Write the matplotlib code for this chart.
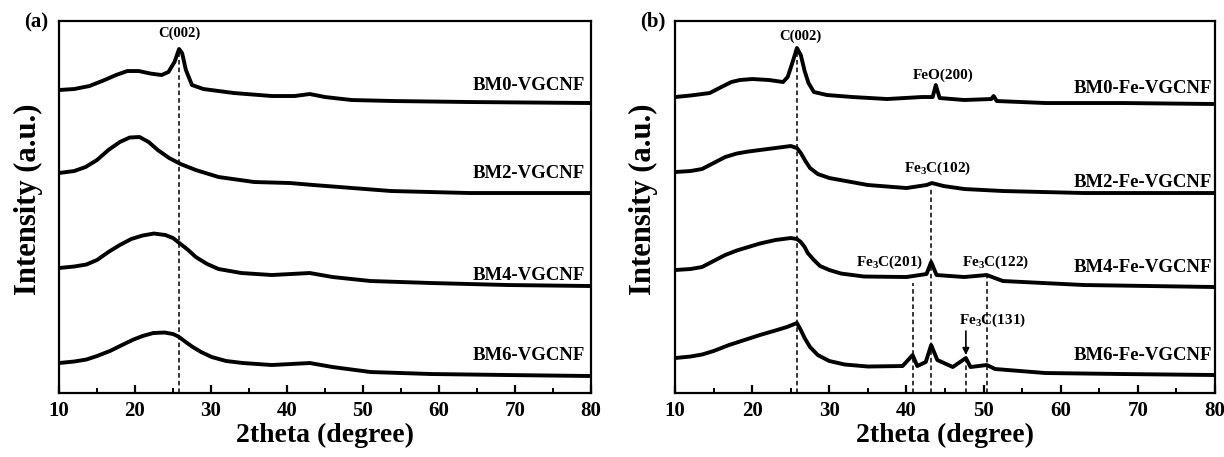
import matplotlib
matplotlib.use('Agg')
import matplotlib.pyplot as plt
from matplotlib.ticker import MultipleLocator


rc = {
    'font.family': 'Liberation Serif',
    'font.weight': 'bold',
    'mathtext.fontset': 'custom',
    'mathtext.default': 'regular',
    'mathtext.rm': 'Liberation Serif:bold',
    'axes.linewidth': 1.6,
    'xtick.direction': 'in',
    'xtick.major.size': 6,
    'xtick.major.width': 1.6,
    'xtick.minor.size': 3.5,
    'xtick.minor.width': 1.4,
    'xtick.labelsize': 15,
    'xtick.major.pad': 6,
}
plt.rcParams.update(rc)

# stacked patterns, intensity in arbitrary (offset) units
a_bm0_x = [10, 12, 14, 16, 17.5, 19, 20.5, 22, 23.5, 24.4, 25.2, 25.8, 26.2, 26.7, 27.5, 29, 33, 38, 41, 43, 45, 48.5, 54, 64, 80]
a_bm0_y = [303, 304, 307, 313, 318, 322, 322, 319.5, 318, 321, 331, 344, 340, 323, 308, 304, 300, 297, 297, 299, 296, 293, 292, 291, 290]

a_bm2_x = [10, 12, 13.5, 15, 16.5, 18, 19.3, 20.6, 21.8, 23, 24.5, 26, 28, 31, 35.7, 40.4, 43.5, 48.6, 53.7, 64, 80]
a_bm2_y = [220, 222, 226, 233, 243, 251, 255.5, 256, 251, 243, 235, 229, 223, 216, 211, 210, 208, 205, 202, 200, 200]

a_bm4_x = [10, 12, 13.6, 15, 16.5, 18, 19.5, 21, 22.5, 24, 25, 26, 27, 28, 29.5, 31, 34, 38, 43, 46, 51, 59, 69, 80]
a_bm4_y = [125, 126.5, 128.5, 133, 141, 148, 154, 157.5, 159.5, 158, 155, 149, 143, 136, 129, 124, 120, 118, 120, 116, 112, 110, 108, 107]

a_bm6_x = [10, 12, 13.6, 15, 16.7, 18.3, 19.8, 21, 22.4, 23.9, 25, 25.7, 26.5, 27.5, 28.7, 30.1, 32, 34.2, 38, 43, 46, 51, 59, 69, 80]
a_bm6_y = [30, 31.5, 33.5, 37, 42, 48, 53.5, 57, 60, 60.5, 59, 56.5, 52, 46.5, 41, 36, 32, 30, 28, 30, 26, 21, 19, 18, 17]

b_bm0_x = [10, 12, 14.5, 16, 17.3, 18.4, 20, 22.2, 24, 24.6, 25.2, 25.8, 26.3, 26.8, 27.3, 28, 29.7, 33, 37.5, 42, 43.4, 43.8, 44.3, 47.5, 51, 51.3, 51.7, 58, 68, 80]
b_bm0_y = [296, 297.5, 300, 306, 311, 313, 314, 313, 311, 316, 330, 345, 338, 322, 310, 301, 298, 296, 294, 296, 296, 308, 295, 293, 294, 297, 292, 290, 290, 289]

b_bm2_x = [10, 12, 13.5, 15, 16.5, 18, 19.5, 21, 23, 25, 25.8, 26.3, 26.9, 27.5, 28.5, 30, 35, 40, 42.6, 43.3, 44.8, 47.5, 52.5, 63, 80]
b_bm2_y = [221, 222, 224, 230, 236, 239.5, 241.5, 243, 245, 247, 245, 240, 232, 225, 219, 215, 208, 205, 208, 210, 207, 204, 202, 200, 200]

b_bm4_x = [10, 12, 13.5, 15, 16.5, 18, 19.5, 21, 23, 25, 25.8, 26.3, 26.8, 27.2, 28, 28.8, 30, 31.5, 34.5, 40, 42.6, 43.2, 43.9, 47.5, 50.4, 52.5, 63, 80]
b_bm4_y = [123, 124, 126, 132, 138, 142.5, 146, 149.5, 153, 155, 154, 151, 146, 140, 133, 127, 123, 119.5, 116.5, 116, 119, 131, 118, 116, 118, 112, 108, 106]

b_bm6_x = [10, 12, 13.5, 15, 17, 19, 21, 23, 24.5, 25.8, 26.3, 26.8, 27.5, 28.5, 30, 32, 35, 39.5, 40.8, 41.4, 42.5, 43.2, 44, 46, 47.7, 48.3, 50.4, 51.5, 58, 68, 80]
b_bm6_y = [35, 36.5, 38.5, 42, 48, 53, 58, 62.5, 66, 70, 63, 55, 46, 38, 32, 28.5, 26.5, 27, 38, 27, 31, 48, 33, 26, 35, 26, 28, 24, 20, 19, 18]

names_a = ['BM0-VGCNF', 'BM2-VGCNF', 'BM4-VGCNF', 'BM6-VGCNF']
names_b = ['BM0-Fe-VGCNF', 'BM2-Fe-VGCNF', 'BM4-Fe-VGCNF', 'BM6-Fe-VGCNF']
name_y_a = [308, 220, 118, 38]
name_y_b = [305, 211, 126, 38]

# peak reference lines: (2theta, top of the line)
ref_a = [(25.8, 343)]
ref_b = [(25.8, 345), (43.2, 205), (40.8, 110), (47.7, 35), (50.4, 116)]

fig = plt.figure(figsize=(12.24, 4.57), dpi=100)
ax_a = fig.add_axes([0.0482, 0.140, 0.4346, 0.814])
ax_b = fig.add_axes([0.5515, 0.140, 0.4412, 0.814])

curves_a = [(a_bm0_x, a_bm0_y), (a_bm2_x, a_bm2_y), (a_bm4_x, a_bm4_y), (a_bm6_x, a_bm6_y)]
curves_b = [(b_bm0_x, b_bm0_y), (b_bm2_x, b_bm2_y), (b_bm4_x, b_bm4_y), (b_bm6_x, b_bm6_y)]

for ax, curves, names, name_y, refs, name_x in [
        (ax_a, curves_a, names_a, name_y_a, ref_a, 79.2),
        (ax_b, curves_b, names_b, name_y_b, ref_b, 79.6)]:
    for (x, y) in curves:
        ax.plot(x, y, color='black', lw=2.8, solid_joinstyle='round', solid_capstyle='round')
    for (x0, top) in refs:
        ax.plot([x0, x0], [0, top], color='black', lw=1.1, ls=(0, (3, 2)))
    for n, yy in zip(names, name_y):
        ax.text(name_x, yy, n, ha='right', va='center', fontsize=13.5, fontweight='bold')
    ax.set_xlim(10, 80)
    ax.set_ylim(0, 372)
    ax.xaxis.set_major_locator(MultipleLocator(10))
    ax.xaxis.set_minor_locator(MultipleLocator(5))
    ax.set_yticks([])
    ax.set_xlabel('2theta (degree)', fontsize=20, fontweight='bold', labelpad=1)
    ax.set_ylabel('Intensity (a.u.)', fontsize=22, fontweight='bold', ha='center', va='center')
    ax.yaxis.set_label_coords(-31 / 532, 0.52)
    for lbl in ax.get_xticklabels():
        lbl.set_fontweight('bold')

fig.text(0.0294, 0.950, '(a)', ha='center', va='center', fontsize=15, fontweight='bold')
fig.text(0.533, 0.953, '(b)', ha='center', va='center', fontsize=15, fontweight='bold')

ax_a.text(25.8, 360, 'C(002)', ha='center', va='center', fontsize=10.5)
ax_b.text(26.3, 357, 'C(002)', ha='center', va='center', fontsize=10.5)
ax_b.text(44.8, 318, 'FeO(200)', ha='center', va='center', fontsize=11)
ax_b.text(44.1, 225, 'Fe$_3$C(102)', ha='center', va='center', fontsize=11)
ax_b.text(37.8, 131, 'Fe$_3$C(201)', ha='center', va='center', fontsize=11)
ax_b.text(51.6, 131, 'Fe$_3$C(122)', ha='center', va='center', fontsize=11)
ax_b.text(51.2, 73, 'Fe$_3$C(131)', ha='center', va='center', fontsize=11)
ax_b.annotate('', xy=(47.7, 38), xytext=(47.7, 62),
              arrowprops=dict(arrowstyle='-|>', color='black', lw=1.2,
                              mutation_scale=10, shrinkA=0, shrinkB=0))

fig.savefig('out.png', dpi=100)
